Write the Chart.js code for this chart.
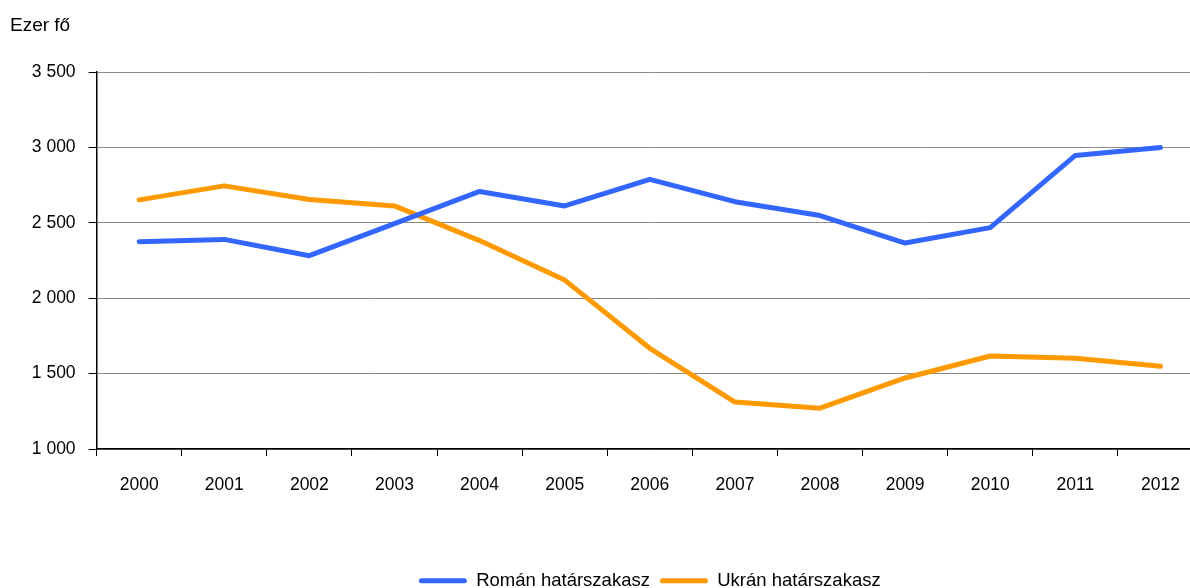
<!DOCTYPE html>
<html>
<head>
<meta charset="utf-8">
<script src="https://cdn.jsdelivr.net/npm/chart.js@4.4.1/dist/chart.umd.min.js"></script>
<style>
  html, body { margin: 0; padding: 0; overflow: hidden; background: #ffffff; }
  #wrap { width: 1204px; height: 588px; }
</style>
</head>
<body>
<div id="wrap"><canvas id="c" width="1204" height="588"></canvas></div>
<script>
const years = ['2000','2001','2002','2003','2004','2005','2006','2007','2008','2009','2010','2011','2012'];
const romanValues = [2375, 2390, 2282, 2495, 2708, 2612, 2788, 2640, 2548, 2366, 2468, 2947, 3000];
const ukranValues = [2652, 2745, 2655, 2612, 2382, 2120, 1668, 1311, 1271, 1471, 1617, 1602, 1549];
const seriesNames = ['Román határszakasz', 'Ukrán határszakasz'];
const yTicks = [1000, 1500, 2000, 2500, 3000, 3500];
const unitLabel = 'Ezer fő';

const FONT = '"Liberation Sans", Arial, sans-serif';

function fmt(v) {
  const s = String(Math.round(v));
  return s.replace(/\B(?=(\d{3})+(?!\d))/g, ' ');
}

const unitPlugin = {
  id: 'unitLabel',
  afterDraw(chart) {
    const ctx = chart.ctx;
    ctx.save();
    ctx.font = '19px ' + FONT;
    ctx.fillStyle = '#000000';
    ctx.textAlign = 'left';
    ctx.textBaseline = 'middle';
    ctx.fillText(unitLabel, 10, 25.5);
    ctx.restore();
  }
};

new Chart(document.getElementById('c'), {
  type: 'line',
  data: {
    labels: years,
    datasets: [
      { label: seriesNames[0], data: romanValues, borderColor: '#3366FF', backgroundColor: '#3366FF',
        borderWidth: 5, pointRadius: 0, tension: 0, borderCapStyle: 'round', borderJoinStyle: 'round', fill: false },
      { label: seriesNames[1], data: ukranValues, borderColor: '#FF9900', backgroundColor: '#FF9900',
        borderWidth: 5, pointRadius: 0, tension: 0, borderCapStyle: 'round', borderJoinStyle: 'round', fill: false }
    ]
  },
  options: {
    responsive: false,
    animation: false,
    layout: { padding: { left: 0, right: 1, top: 72, bottom: -12 } },
    plugins: {
      tooltip: { enabled: false },
      title: { display: false },
      legend: {
        position: 'bottom',
        fullSize: false,
        labels: {
          font: { family: FONT, size: 18.5 },
          color: '#000000',
          boxWidth: 48,
          boxHeight: 5,
          padding: 10,
          useBorderRadius: true,
          borderRadius: 2.5,
          generateLabels(chart) {
            return chart.data.datasets.map((d, i) => ({
              text: d.label, fillStyle: d.borderColor, strokeStyle: d.borderColor,
              lineWidth: 0, hidden: false, datasetIndex: i, fontColor: '#000000',
              borderRadius: 2.5
            }));
          }
        }
      }
    },
    scales: {
      x: {
        type: 'category',
        offset: true,
        afterFit(scale) { scale.height = 112.5; },
        grid: { display: true, drawOnChartArea: false, drawTicks: true, tickLength: 7, tickColor: '#000000', offset: true },
        border: { display: true, color: '#000000', width: 1.5 },
        ticks: { font: { family: FONT, size: 17.5 }, color: '#000000', padding: 19, maxRotation: 0 }
      },
      y: {
        min: 1000, max: 3500,
        afterFit(scale) { scale.width = 96.6; },
        afterBuildTicks(scale) { scale.ticks = yTicks.map(v => ({ value: v })); },
        grid: { display: true, color: '#8a8a8a', lineWidth: 1, drawTicks: true, tickLength: 8, tickColor: '#000000' },
        border: { display: true, color: '#000000', width: 1.5 },
        ticks: { font: { family: FONT, size: 17.5 }, color: '#000000', padding: 13, callback: (v) => fmt(v) }
      }
    }
  },
  plugins: [unitPlugin]
});
</script>
</body>
</html>
